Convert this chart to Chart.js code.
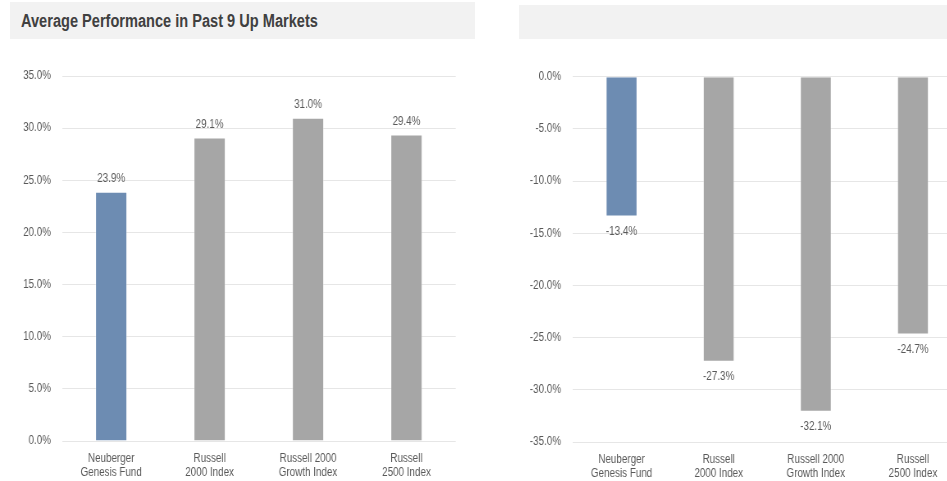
<!DOCTYPE html>
<html>
<head>
<meta charset="utf-8">
<script src="https://cdn.jsdelivr.net/npm/chart.js@4.4.1/dist/chart.umd.min.js"></script>
<style>
  html, body { margin: 0; padding: 0; width: 947px; height: 481px; overflow: hidden; background: #fff; }
  .hdr { position: absolute; background: #f2f2f2; }
  #h1 { left: 10px; top: 2px; width: 465px; height: 37px; }
  #h2 { left: 519px; top: 5px; width: 428px; height: 34px; }
  #h1 span { position: absolute; left: 11px; top: 9px; font: bold 18px 'Liberation Sans', Arial, sans-serif; color: #404040; white-space: nowrap; transform: scaleX(0.81); transform-origin: 0 0; }
  canvas { position: absolute; top: 60px; transform: scaleX(0.82); transform-origin: 0 0; }
  #c1 { left: 0; }
  #c2 { left: 480px; }
</style>
</head>
<body>
<div class="hdr" id="h1"><span>Average Performance in Past 9 Up Markets</span></div>
<div class="hdr" id="h2"></div>
<canvas id="c1" width="573" height="421"></canvas>
<canvas id="c2" width="600" height="421"></canvas>
<script>
const categories = [["Neuberger", "Genesis Fund"], ["Russell", "2000 Index"], ["Russell 2000", "Growth Index"], ["Russell", "2500 Index"]];
const upValues = [23.9, 29.1, 31.0, 29.4];
const downValues = [-13.4, -27.3, -32.1, -24.7];
const barColors = ["#6d8cb2", "#a6a6a6", "#a6a6a6", "#a6a6a6"];
const upTicks = { min: 0, max: 35, step: 5 };
const downTicks = { min: -35, max: 0, step: 5 };

const FONT = "'Liberation Sans', Arial, sans-serif";
const TXT = "#595959";

const valueLabels = {
  id: 'valueLabels',
  afterDatasetsDraw(chart, args, opts) {
    const ctx = chart.ctx;
    const meta = chart.getDatasetMeta(0);
    const data = chart.data.datasets[0].data;
    ctx.save();
    ctx.font = "12px " + FONT;
    ctx.fillStyle = TXT;
    ctx.textAlign = 'center';
    ctx.textBaseline = 'middle';
    meta.data.forEach((bar, i) => {
      ctx.fillText(data[i].toFixed(1) + '%', bar.x, bar.y + opts.offset);
    });
    ctx.restore();
  }
};

function makeChart(id, values, ticks, yWidth, yPad, padTop, xHeight, padRight, labelOffset) {
  return new Chart(document.getElementById(id), {
    type: 'bar',
    data: {
      labels: categories,
      datasets: [{
        data: values,
        backgroundColor: barColors,
        borderColor: 'rgba(255,255,255,0.35)',
        borderWidth: 1,
        categoryPercentage: 0.325,
        barPercentage: 1
      }]
    },
    options: {
      responsive: false,
      devicePixelRatio: 1,
      animation: false,
      layout: { padding: { top: padTop, right: padRight, left: 0, bottom: 0 } },
      plugins: {
        legend: { display: false },
        tooltip: { enabled: false },
        valueLabels: { offset: labelOffset }
      },
      scales: {
        x: {
          grid: { display: false, drawTicks: false },
          border: { display: false },
          ticks: { color: TXT, font: { family: FONT, size: 12, lineHeight: 1.2 }, padding: 10, maxRotation: 0, autoSkip: false },
          afterFit(s) { s.height = xHeight; s.paddingLeft = 0; s.paddingRight = 0; }
        },
        y: {
          min: ticks.min, max: ticks.max,
          grid: { color: '#e6e6e6', lineWidth: 1, drawTicks: false },
          border: { display: false },
          ticks: {
            stepSize: ticks.step, color: TXT, padding: yPad,
            font: { family: FONT, size: 12 },
            callback: v => v.toFixed(1) + '%'
          },
          afterFit(s) { s.width = yWidth; s.paddingTop = 0; s.paddingBottom = 0; }
        }
      }
    },
    plugins: [valueLabels]
  });
}

makeChart('c1', upValues, upTicks, 75.6, 13.4, 16, 40, 17.3, -13);
makeChart('c2', downValues, downTicks, 113.4, 14.6, 16.7, 39, 12.8, 15);
</script>
</body>
</html>
